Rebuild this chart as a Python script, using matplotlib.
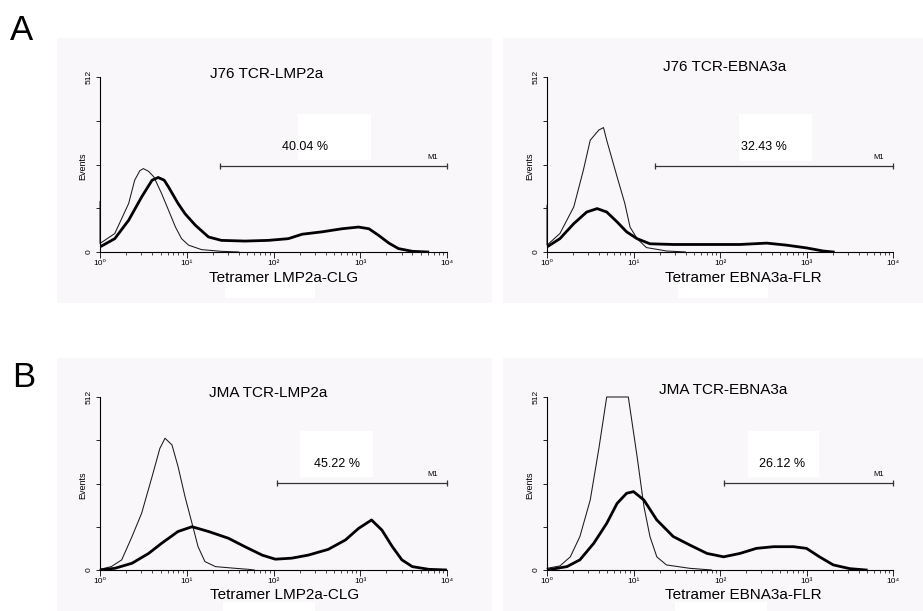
import matplotlib.pyplot as plt
from matplotlib.patches import Rectangle
from matplotlib.ticker import FixedLocator, LogLocator, NullFormatter

plt.rcParams['font.family'] = ['Liberation Sans', 'DejaVu Sans']

# --- data (fluorescence intensity, events) ---
# A, J76 TCR-LMP2a
a1_ctrl_x = [1.0, 1.0, 1.48, 2.14, 2.51, 2.88, 3.16, 3.63, 4.17, 5.13, 6.17, 7.41, 8.71, 10.5, 14.8, 25, 40]
a1_ctrl_y = [148, 25, 54, 142, 210, 238, 244, 236, 220, 171, 122, 73, 39, 20, 7, 2, 0]
a1_tet_x = [1.0, 1.48, 2.14, 3.02, 3.98, 4.68, 5.5, 6.17, 7.94, 9.55, 12.6, 17.8, 25.1, 46.8, 87.1,
            148, 214, 363, 617, 955, 1259, 1622, 2138, 2754, 3981, 6000]
a1_tet_y = [15, 39, 93, 161, 210, 218, 210, 190, 142, 112, 78, 44, 34, 32, 34,
            39, 52, 59, 68, 73, 68, 49, 26, 10, 2, 0]

# A, J76 TCR-EBNA3a
a2_ctrl_x = [1.0, 1.0, 1.41, 2.04, 2.63, 3.16, 3.98, 4.5, 4.9, 6.46, 7.94, 9.12, 11, 14.1, 24, 40]
a2_ctrl_y = [137, 20, 54, 132, 239, 327, 357, 364, 327, 220, 142, 73, 39, 13, 3, 0]
a2_tet_x = [1.0, 1.41, 2.04, 2.88, 3.8, 4.9, 6.46, 8.32, 11, 15.5, 28.8, 70.8, 170, 347,
            589, 1000, 1549, 2042]
a2_tet_y = [15, 39, 83, 117, 127, 117, 88, 59, 39, 24, 22, 22, 22, 26, 20, 12, 3, 0]

# B, JMA TCR-LMP2a
b1_ctrl_x = [1.0, 1.35, 1.78, 2.34, 3.02, 3.98, 4.9, 5.62, 6.76, 7.94, 9.55, 11.5, 13.5, 16.2,
             21.4, 36.3, 51.3, 60]
b1_ctrl_y = [2, 10, 30, 99, 168, 276, 360, 390, 370, 306, 217, 138, 69, 25, 10, 5, 2, 0]
b1_tet_x = [1.0, 1.48, 2.34, 3.63, 5.13, 7.94, 11.5, 17.8, 30.2, 46.8, 74.1, 105, 162, 251,
            427, 676, 955, 1349, 1778, 2344, 3020, 3981, 6166, 10000]
b1_tet_y = [0, 5, 20, 49, 79, 114, 128, 114, 94, 69, 44, 32, 35, 44,
            61, 89, 123, 148, 118, 69, 30, 10, 2, 0]

# B, JMA TCR-EBNA3a (control is off scale -> flat at 512)
b2_ctrl_x = [1.0, 1.41, 1.86, 2.4, 3.16, 3.98, 4.9, 8.71, 11, 13.2, 15.5, 18.6, 24, 44.7, 80]
b2_ctrl_y = [5, 12, 39, 99, 207, 360, 512, 512, 336, 188, 99, 39, 15, 5, 0]
b2_tet_x = [1.0, 1.7, 2.4, 3.47, 4.9, 6.46, 8.32, 10, 13.2, 18.6, 28.8, 44.7, 70.8, 110,
            170, 263, 417, 708, 1000, 1413, 2042, 3162, 4898]
b2_tet_y = [0, 10, 30, 79, 138, 197, 227, 232, 207, 148, 99, 74, 49, 39,
            49, 64, 69, 69, 64, 39, 15, 4, 0]

titles = ['J76 TCR-LMP2a', 'J76 TCR-EBNA3a', 'JMA TCR-LMP2a', 'JMA TCR-EBNA3a']
xlabels = ['Tetramer LMP2a-CLG', 'Tetramer EBNA3a-FLR', 'Tetramer LMP2a-CLG', 'Tetramer EBNA3a-FLR']
percents = ['40.04 %', '32.43 %', '45.22 %', '26.12 %']
gate_start = [24, 17.5, 110, 110]
gate_level = [252, 252, 257, 257]

W, H = 923, 611
fig = plt.figure(figsize=(W / 100, H / 100), dpi=100)

# light grey panel backgrounds (pixel boxes: left, top, right, bottom)
for (l, t, r, b) in [(57, 38, 492, 303), (503, 38, 923, 303), (57, 358, 492, 611), (503, 358, 923, 611)]:
    fig.patches.append(Rectangle((l / W, 1 - b / H), (r - l) / W, (b - t) / H,
                                 transform=fig.transFigure, fc='#f9f7f9', ec='none', zorder=-1))

fig.text(10 / W, 1 - 40 / H, 'A', fontsize=25, va='baseline')
fig.text(12 / W, 1 - 387 / H, 'B', fontsize=25, va='baseline')

# axes boxes in pixels: left, top, right, bottom
boxes = [(100, 77, 447, 252), (547, 77, 893, 252), (100, 397, 447, 570), (547, 397, 893, 570)]
ctrl = [(a1_ctrl_x, a1_ctrl_y), (a2_ctrl_x, a2_ctrl_y), (b1_ctrl_x, b1_ctrl_y), (b2_ctrl_x, b2_ctrl_y)]
tet = [(a1_tet_x, a1_tet_y), (a2_tet_x, a2_tet_y), (b1_tet_x, b1_tet_y), (b2_tet_x, b2_tet_y)]
title_pos = [(0.481, 0.994), (0.514, 1.034), (0.485, 1.0), (0.509, 1.017)]
xlabel_pos = [0.528, 0.566, 0.533, 0.566]
pct_pos = [(234, 308), (324, 308), (537, 314), (525, 314)]
# white patches left over from the original figure (axes fractions: x0, x1, y0, y1)
pct_box = [(0.57, 0.78, 0.527, 0.791), (0.555, 0.765, 0.52, 0.786),
           (0.575, 0.7875, 0.54, 0.805), (0.58, 0.7875, 0.54, 0.805)]
lab_box = [(0.36, 0.62, -0.263, -0.16), (0.379, 0.639, -0.263, -0.16),
           (0.355, 0.62, -0.237, -0.185), (0.37, 0.636, -0.237, -0.185)]

for i, (l, t, r, b) in enumerate(boxes):
    ax = fig.add_axes([l / W, 1 - b / H, (r - l) / W, (b - t) / H])
    ax.set_facecolor('none')
    ax.set_xscale('log')
    ax.set_xlim(1, 10000)
    ax.set_ylim(0, 512)

    for (x0, x1, y0, y1) in [pct_box[i], lab_box[i]]:
        ax.add_patch(Rectangle((x0, y0), x1 - x0, y1 - y0, transform=ax.transAxes,
                               fc='white', ec='none', clip_on=False, zorder=0.5))

    ax.plot(ctrl[i][0], ctrl[i][1], color='#1a1a1a', lw=0.75, clip_on=False)
    ax.plot(tet[i][0], tet[i][1], color='black', lw=2.0, solid_joinstyle='round')

    # marker M1
    ax.plot([gate_start[i], 10000], [gate_level[i], gate_level[i]], color='#333333', lw=0.9,
            marker='|', ms=5, mew=0.9, clip_on=False)
    ax.text(7900, gate_level[i] + 14, 'M1', fontsize=5.5, ha='right', va='bottom')
    ax.text(pct_pos[i][0], pct_pos[i][1], percents[i], fontsize=9, ha='center', va='center')

    ax.text(title_pos[i][0], title_pos[i][1], titles[i], transform=ax.transAxes,
            fontsize=11, ha='center', va='baseline')
    ax.text(xlabel_pos[i], -0.17, xlabels[i], transform=ax.transAxes,
            fontsize=11, ha='center', va='baseline')
    ax.text(-0.05, 0.49, 'Events', transform=ax.transAxes, fontsize=6.5,
            rotation=90, ha='center', va='center')

    for s in ['top', 'right']:
        ax.spines[s].set_visible(False)
    for s in ['left', 'bottom']:
        ax.spines[s].set_linewidth(0.8)

    ax.xaxis.set_major_locator(FixedLocator([1, 10, 100, 1000, 10000]))
    ax.set_xticklabels(['10⁰', '10¹', '10²', '10³', '10⁴'])
    ax.xaxis.set_minor_locator(LogLocator(base=10, subs=range(2, 10)))
    ax.xaxis.set_minor_formatter(NullFormatter())
    ax.tick_params(axis='x', which='major', length=4, width=0.6, labelsize=6, pad=1.5)
    ax.tick_params(axis='x', which='minor', length=2.5, width=0.5)

    ax.set_yticks([0, 128, 256, 384, 512])
    ax.set_yticklabels(['0', '', '', '', '512'], rotation=90, va='center')
    ax.tick_params(axis='y', length=3, width=0.6, labelsize=6, pad=2)

fig.savefig('out.png', dpi=100)
